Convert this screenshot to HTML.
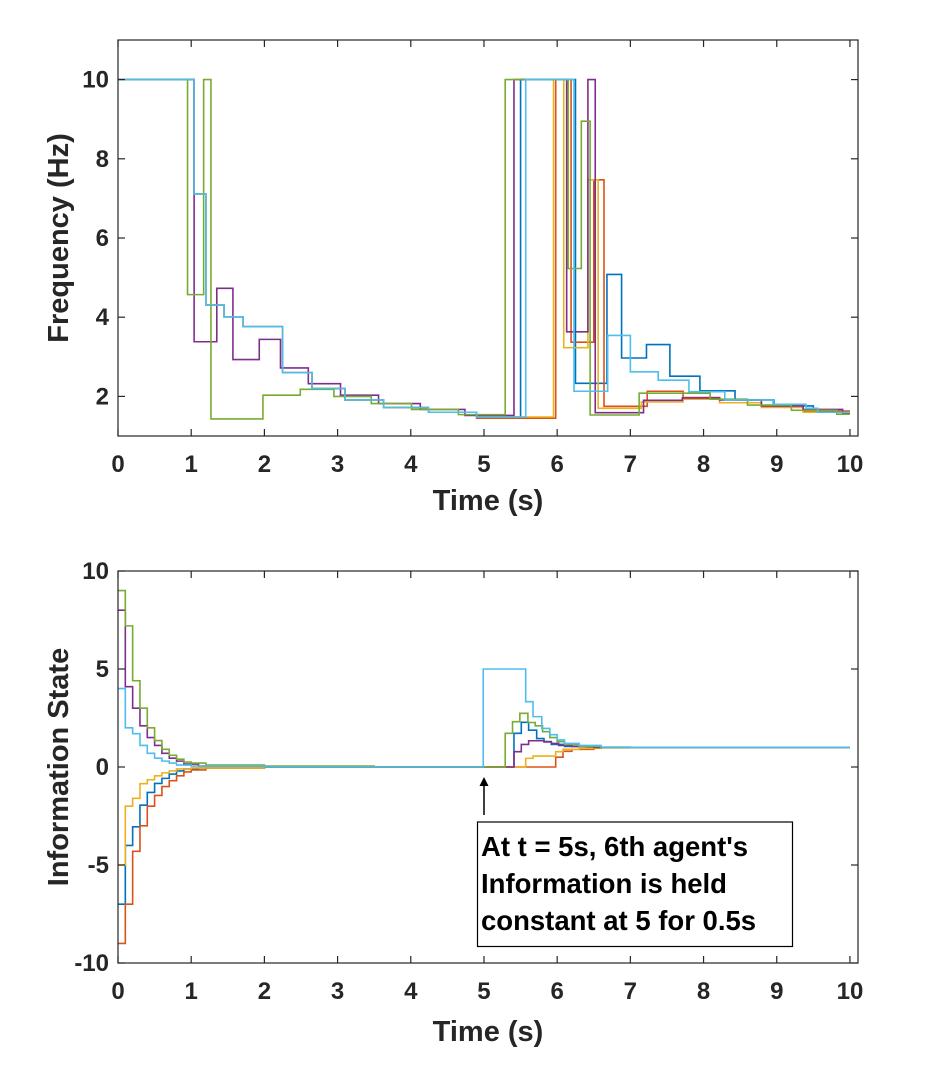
<!DOCTYPE html>
<html><head><meta charset="utf-8"><style>
html,body{margin:0;padding:0;background:#fff;}
svg{display:block;font-family:"Liberation Sans",Arial,sans-serif;}
.tk{font-size:24px;font-weight:bold;fill:#262626;}
.al{font-size:29px;font-weight:bold;fill:#262626;}
</style></head><body>
<svg id="chart" width="929" height="1075" viewBox="0 0 929 1075" xmlns="http://www.w3.org/2000/svg">
<rect width="929" height="1075" fill="#fff"/>
<g id="top"></g>
<g id="bot"></g>
<text class="al" x="488" y="510" text-anchor="middle">Time (s)</text>
<text class="al" transform="translate(68,238) rotate(-90)" text-anchor="middle">Frequency (Hz)</text>
<text class="al" x="488" y="1041" text-anchor="middle">Time (s)</text>
<text class="al" transform="translate(68,767) rotate(-90)" text-anchor="middle">Information State</text>
<g>
<line x1="484" y1="815" x2="484" y2="782" stroke="#000" stroke-width="1.5"/>
<path d="M479.5,786 L484,777 L488.5,786 Z" fill="#000"/>
<rect x="477.5" y="822" width="315" height="124.5" fill="#fff" stroke="#000" stroke-width="1.2"/>
<text font-size="27.5" font-weight="bold" fill="#000">
<tspan x="481" y="856">At t = 5s, 6th agent's</tspan>
<tspan x="481" y="893">Information is held</tspan>
<tspan x="481" y="930">constant at 5 for 0.5s</tspan>
</text>
</g>
</svg>
<script>
const colors = ["#0072BD","#D95319","#EDB120","#7E2F8E","#77AC30","#4DBEEE"];
const xTicks = [0,1,2,3,4,5,6,7,8,9,10];
const freqYTicks = [2,4,6,8,10];
const infoYTicks = [-10,-5,0,5,10];

const freqAgent1 = [[0,10],[1.04,7.11],[1.20,4.31],[1.45,4.01],[1.71,3.76],[2.25,2.6],[2.65,2.2],[3.10,1.91],[3.63,1.72],[4.24,1.6],[4.90,1.48],[5.5,10],[6.25,2.33],[6.68,5.08],[6.88,2.97],[7.22,3.31],[7.54,2.51],[7.95,2.14],[8.43,1.91],[8.96,1.76],[9.5,1.62]];
const freqAgent2 = [[0,10],[1.04,7.11],[1.20,4.31],[1.45,4.01],[1.71,3.76],[2.25,2.6],[2.65,2.2],[3.10,1.91],[3.63,1.72],[4.24,1.6],[4.90,1.45],[5.98,10],[6.19,3.37],[6.5,7.47],[6.64,1.75],[7.23,2.13],[7.72,1.97],[8.22,1.84],[8.79,1.76],[9.36,1.63]];
const freqAgent3 = [[0,10],[1.04,7.11],[1.20,4.31],[1.45,4.01],[1.71,3.76],[2.25,2.6],[2.65,2.2],[3.10,1.91],[3.63,1.72],[4.24,1.6],[4.90,1.48],[5.95,10],[6.09,3.23],[6.42,7.47],[6.56,1.7],[7.15,1.86],[7.72,1.93],[8.22,1.84],[8.79,1.72],[9.36,1.6]];
const freqAgent4 = [[0,10],[1.04,3.38],[1.35,4.73],[1.57,2.93],[1.93,3.44],[2.22,2.72],[2.6,2.32],[3.04,2.03],[3.56,1.82],[4.13,1.67],[4.74,1.52],[5.41,10],[6.13,3.63],[6.42,10],[6.52,1.59],[7.18,1.9],[7.71,1.96],[8.22,1.91],[8.79,1.76],[9.36,1.67],[9.9,1.58]];
const freqAgent5 = [[0,10],[0.95,4.57],[1.17,10],[1.27,1.43],[1.98,2.03],[2.49,2.18],[2.95,2.0],[3.46,1.82],[4.01,1.67],[4.65,1.54],[5.29,10],[6.15,5.23],[6.33,8.95],[6.45,1.53],[7.12,2.08],[8.09,1.93],[8.6,1.78],[9.2,1.65],[9.82,1.55]];
const freqAgent6 = [[0,10],[1.04,7.11],[1.20,4.31],[1.45,4.01],[1.71,3.76],[2.25,2.6],[2.65,2.2],[3.10,1.91],[3.63,1.72],[4.24,1.6],[4.90,1.48],[5.57,10],[6.23,2.13],[6.69,3.54],[7.0,2.62],[7.38,2.41],[7.8,2.12],[8.29,1.91],[8.95,1.8],[9.4,1.7],[9.56,1.6]];

const infoAgent1 = [[0,-7],[0.1,-4.0],[0.2,-3.05],[0.3,-1.95],[0.4,-1.3],[0.5,-0.84],[0.6,-0.58],[0.7,-0.36],[0.8,-0.2],[0.9,-0.1],[1.1,-0.05],[2,0],[5.41,1.72],[5.51,2.28],[5.61,1.88],[5.72,1.45],[5.82,1.3],[5.92,1.15],[6.1,1.05],[6.4,1.0]];
const infoAgent2 = [[0,-9],[0.1,-7],[0.2,-4.3],[0.3,-3.0],[0.4,-2.0],[0.5,-1.45],[0.6,-1.0],[0.7,-0.7],[0.8,-0.45],[0.9,-0.25],[1.0,-0.15],[1.2,-0.05],[2,0],[5.98,0.5],[6.08,0.8],[6.2,0.9],[6.5,1.0]];
const infoAgent3 = [[0,-5],[0.1,-2.0],[0.2,-1.6],[0.3,-0.85],[0.4,-0.65],[0.5,-0.45],[0.6,-0.3],[0.7,-0.2],[0.8,-0.1],[1.0,-0.05],[2,0],[5.57,0.44],[5.67,0.56],[5.98,0.78],[6.08,0.9],[6.3,0.95],[6.6,1.0]];
const infoAgent4 = [[0,8],[0.1,4.1],[0.2,3.0],[0.3,2.1],[0.4,1.5],[0.5,1.1],[0.6,0.7],[0.7,0.45],[0.8,0.3],[0.9,0.15],[1.1,0.05],[2,0],[5.41,0.78],[5.51,1.15],[5.61,1.34],[5.82,1.28],[5.92,1.2],[6.02,1.1],[6.2,1.05],[6.5,1.0]];
const infoAgent5 = [[0,9],[0.1,7.2],[0.2,4.4],[0.3,3.0],[0.4,2.0],[0.5,1.35],[0.6,0.9],[0.7,0.6],[0.8,0.4],[0.9,0.25],[1.0,0.2],[1.2,0.1],[2.0,0.05],[3.5,0],[5.29,1.72],[5.39,2.31],[5.49,2.74],[5.6,2.27],[5.7,2.1],[5.8,1.8],[5.9,1.5],[6.0,1.3],[6.1,1.15],[6.3,1.05],[6.6,1.0]];
const infoAgent6 = [[0,4],[0.1,2],[0.2,1.7],[0.3,1.1],[0.4,0.7],[0.5,0.45],[0.6,0.3],[0.7,0.2],[0.8,0.1],[1.0,0.05],[2,0],[4.99,5],[5.57,3.33],[5.67,2.57],[5.79,1.97],[5.9,1.65],[6.0,1.38],[6.1,1.2],[6.3,1.1],[6.6,1.02],[7,1.0]];

const NS = "http://www.w3.org/2000/svg";
function mk(tag, attrs, parent){
  const e = document.createElementNS(NS, tag);
  for (const k in attrs) e.setAttribute(k, attrs[k]);
  parent.appendChild(e);
  return e;
}
function drawPlot(g, box, xmin, xmax, ymin, ymax, yTicks, series, prefix){
  const xs = t => box.l + (t - xmin) / (xmax - xmin) * (box.r - box.l);
  const ys = v => box.b - (v - ymin) / (ymax - ymin) * (box.b - box.t);
  const bg = mk("rect", {x:box.l, y:box.t, width:box.r-box.l, height:box.b-box.t, fill:"#fff"}, g);
  
  
  const clipId = prefix + "clip";
  const defs = mk("defs", {}, g);
  const cp = mk("clipPath", {id:clipId}, defs);
  mk("rect", {x:box.l, y:box.t, width:box.r-box.l, height:box.b-box.t}, cp);
  const lines = mk("g", {"clip-path":"url(#"+clipId+")"}, g);
  series.forEach((s, i) => {
    let d = "M" + xs(s[0][0]).toFixed(2) + "," + ys(s[0][1]).toFixed(2);
    for (let k = 1; k < s.length; k++) {
      d += " H" + xs(s[k][0]).toFixed(2) + " V" + ys(s[k][1]).toFixed(2);
    }
    d += " H" + xs(10).toFixed(2);
    const p = mk("path", {d:d, fill:"none", stroke:colors[i], "stroke-width":1.6, "stroke-linejoin":"miter"}, lines);
    
    
  });
  const ax = mk("g", {stroke:"#262626", "stroke-width":1.2, fill:"none"}, g);
  
  
  mk("rect", {x:box.l, y:box.t, width:box.r-box.l, height:box.b-box.t}, ax);
  xTicks.forEach(t => {
    const x = xs(t);
    mk("line", {x1:x, y1:box.b, x2:x, y2:box.b-7}, ax);
    mk("line", {x1:x, y1:box.t, x2:x, y2:box.t+7}, ax);
    const tx = mk("text", {x:x, y:box.b+36, "text-anchor":"middle", class:"tk"}, g);
    tx.textContent = String(t);
    
    
  });
  yTicks.forEach(v => {
    const y = ys(v);
    mk("line", {x1:box.l, y1:y, x2:box.l+7, y2:y}, ax);
    mk("line", {x1:box.r, y1:y, x2:box.r-7, y2:y}, ax);
    const tx = mk("text", {x:box.l-9, y:y+8, "text-anchor":"end", class:"tk"}, g);
    tx.textContent = String(v);
    
    
  });
}
drawPlot(document.getElementById("top"), {l:118, r:858, t:40, b:436}, 0, 10.11, 1, 11, freqYTicks,
  [freqAgent1, freqAgent2, freqAgent3, freqAgent4, freqAgent5, freqAgent6], "frequency");
drawPlot(document.getElementById("bot"), {l:118, r:858, t:571, b:963}, 0, 10.11, -10, 10, infoYTicks,
  [infoAgent1, infoAgent2, infoAgent3, infoAgent4, infoAgent5, infoAgent6], "info");
</script>
</body></html>
